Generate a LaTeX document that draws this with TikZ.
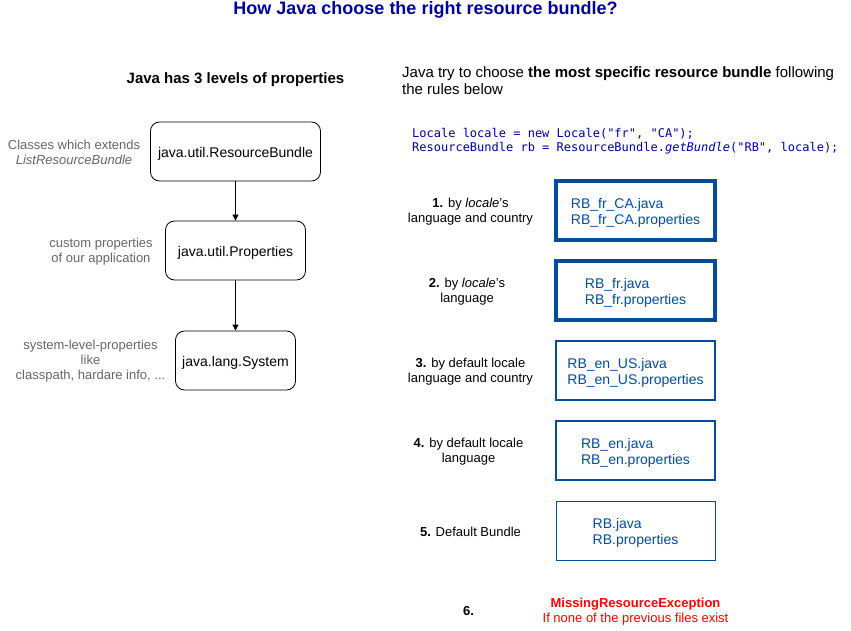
\documentclass[tikz,border=0pt]{standalone}
\usepackage{fontspec}
\usepackage{xcolor}
\usepackage{tikz}
\usetikzlibrary{arrows.meta,positioning}
\setmainfont{Liberation Sans}
\setmonofont{DejaVu Sans Mono}
\definecolor{jvNavy}{RGB}{0,0,153}
\definecolor{jvBlue}{RGB}{0,76,153}
\definecolor{jvGray}{RGB}{102,102,102}
\definecolor{jvRed}{RGB}{255,0,0}
\newcommand{\jvstrut}{\rule{0pt}{14pt}}
\tikzset{
    propbox/.style={draw=black, line width=0.8pt, rounded corners=9pt, minimum height=59pt,
        inner sep=0pt, font=\fontsize{14}{16}\selectfont},
    sidenote/.style={text=jvGray, align=center, inner sep=0pt, font=\fontsize{13}{15}\selectfont},
    rulebox/.style={draw=jvBlue, fill=white, minimum width=159pt, minimum height=59pt,
        text=jvBlue, align=left, inner sep=0pt, font=\fontsize{14}{16}\selectfont},
    rulelabel/.style={align=center, inner sep=0pt, font=\fontsize{13}{15}\selectfont},
    levelarrow/.style={line width=0.8pt, -{Triangle[length=6pt,width=6pt]}}
}

\begin{document}
\begin{tikzpicture}[x=1pt,y=-1pt]
    \useasboundingbox[fill=white] (0,0) rectangle (851,631);
    % title
    \node[text=jvNavy, inner sep=0pt, font=\fontsize{18}{20}\selectfont\bfseries] (title) at (425.5,10) {How Java choose the right resource bundle?};

    % left side: levels of properties
    \node[inner sep=0pt, font=\fontsize{15}{17}\selectfont\bfseries] (levels) at (235.5,80) {Java has 3 levels of properties};
    \node[propbox, minimum width=170pt] (rb) at (235.5,151.5) {\jvstrut java.util.ResourceBundle};
    \node[propbox, minimum width=140pt] (props) at (235.5,250.5) {\jvstrut java.util.Properties};
    \node[propbox, minimum width=120pt] (sys) at (235.5,360.5) {\jvstrut java.lang.System};
    \draw[levelarrow] (rb) -- (props);
    \draw[levelarrow] (props) -- (sys);
    \node[sidenote] (rbnote) at (74,152.5) {Classes which extends\\\textit{ListResourceBundle}};
    \node[sidenote] (propsnote) at (101,251.5) {custom properties\\of our application};
    \node[sidenote] (sysnote) at (90.5,361.5) {system-level-properties\\like\\classpath, hardare info, ...};

    % right side: lookup rules
    \node[anchor=west, align=left, inner sep=0pt, font=\fontsize{15}{17}\selectfont] (intro) at (402,80.5)
        {Java try to choose \textbf{the most specific resource bundle} following\\the rules below};
    \node[anchor=west, align=left, inner sep=0pt, text=jvNavy, font=\fontsize{12}{14}\ttfamily] (code) at (412,141)
        {Locale locale = new Locale("fr", "CA");\\ResourceBundle rb = ResourceBundle.\textit{getBundle}("RB", locale);};

    \node[rulebox, line width=4pt] (r1) at (635.5,210.5) {\jvstrut RB\_fr\_CA.java\\RB\_fr\_CA.properties};
    \node[rulebox, line width=3.2pt] (r2) at (635.5,290.5) {\jvstrut RB\_fr.java\\RB\_fr.properties};
    \node[rulebox, line width=2.8pt] (r3) at (635.5,370.5) {\jvstrut RB\_en\_US.java\\RB\_en\_US.properties};
    \node[rulebox, line width=1.8pt] (r4) at (635.5,450.5) {\jvstrut RB\_en.java\\RB\_en.properties};
    \node[rulebox, line width=0.9pt] (r5) at (635.5,530.5) {\jvstrut RB.java\\RB.properties};

    \node[rulelabel] (l1) at (470.5,212) {\textbf{1.} by \textit{locale}'s\\language and country};
    \node[rulelabel] (l2) at (467,292) {\textbf{2.} by \textit{locale}'s\\language};
    \node[rulelabel] (l3) at (470.5,372) {\textbf{3.} by default locale\\language and country};
    \node[rulelabel] (l4) at (468.5,452) {\textbf{4.} by default locale\\language};
    \node[rulelabel] (l5) at (470.5,531.5) {\textbf{5.} Default Bundle};
    \node[rulelabel] (l6) at (468.5,611) {\textbf{6.}};
    \node[rulelabel, text=jvRed] (missing) at (635.5,612) {\textbf{MissingResourceException}\\If none of the previous files exist};
\end{tikzpicture}
\end{document}
